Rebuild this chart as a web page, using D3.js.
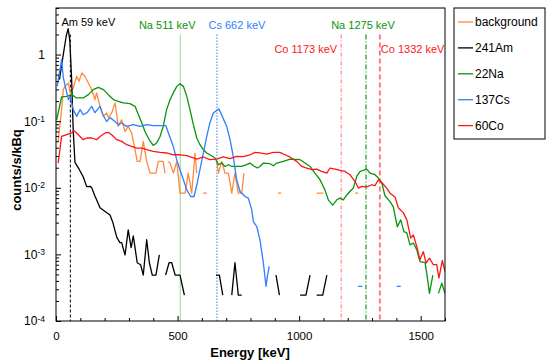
<!DOCTYPE html>
<html>
<head>
<meta charset="utf-8">
<title>Gamma spectra</title>
<script src="https://d3js.org/d3.v7.min.js"></script>
<style>
  body { margin: 0; background: #fff; }
  svg { font-family: "Liberation Sans", Arial, sans-serif; }
  .axis path { display: none; }
  .axis line { stroke: #000; }
  .axis text { font-size: 12px; fill: #000; }
  .trace { fill: none; stroke-width: 1.3; stroke-linejoin: round; }
</style>
</head>
<body>
<svg width="550" height="364"></svg>
<script>
// [energy keV, counts/s/kBq]; null = gap (zero counts)
var background = [
  [9,0.05],[23,0.149],[30,0.298],[37,0.333],[51,0.375],[58,0.265],[71,0.316],[85,0.472],[95,0.397],[106,0.531],
  [119,0.472],[133,0.375],[147,0.298],[160,0.211],[167,0.265],[181,0.167],[195,0.118],[208,0.133],[215,0.113],[229,0.133],
  [243,0.188],[256,0.0835],[270,0.105],[284,0.07],[297,0.0835],[311,0.0665],[325,0.0373],[334,0.0249],[346,0.0249],[359,0.0497],
  [373,0.0249],[387,0.0166],[411,0.0166],[421,0.0249],[441,0.0249],[448,0.0166],null,
  [462,0.0249],[469,0.0235],[483,0.0166],[497,0.0249],[510,0.0083],[531,0.0083],[544,0.0166],[558,0.0083],[572,0.033],[579,0.0166],null,
  [605,0.0083],[620,0.0083],null,
  [661,0.0249],[668,0.0166],[682,0.0249],[695,0.0166],[709,0.0166],[723,0.0083],[736,0.0166],[750,0.0083],[764,0.0083],[773,0.0166],null,
  [913,0.0083],[927,0.0083],null,[1072,0.0083],[1100,0.0083],null,[1230,0.0083],[1243,0.0083]
];

var am241 = [
  [14,0.42],[28,0.9],[42,1.9],[50,2.45],[57,1.6],[64,0.45],[71,0.07],[78,0.024],[95,0.019],[112,0.0146],
  [126,0.0104],[140,0.0105],[147,0.0100],[160,0.0075],[167,0.0066],[181,0.0050],[202,0.0044],[222,0.0039],[234,0.0030],[250,0.0018],
  [263,0.0015],[270,0.0015],[284,0.00098],[297,0.00234],[309,0.00126],[318,0.0019],[334,0.00075],[348,0.0007],[359,0.00049],[373,0.00166],
  [384,0.00075],[396,0.00049],[411,0.00049],[425,0.00098],null,
  [451,0.00049],[465,0.00075],[476,0.00075],[490,0.00049],[510,0.00049],[528,0.000245],null,
  [658,0.00049],[672,0.00049],[686,0.000245],null,
  [723,0.000245],[736,0.00075],[750,0.000245],[764,0.000245],null,
  [905,0.00049],[919,0.000245],null,
  [1004,0.000245],[1028,0.000245],[1045,0.00049],null,
  [1072,0.000245],[1097,0.000245],[1114,0.00049]
];

var na22 = [
  [3,0.105],[23,0.231],[44,0.236],[65,0.25],[85,0.223],[112,0.223],[133,0.25],[153,0.298],[174,0.322],[195,0.298],
  [215,0.25],[236,0.211],[256,0.199],[277,0.188],[304,0.183],[325,0.167],[339,0.125],[353,0.094],[366,0.07],[383,0.053],
  [400,0.0433],[414,0.047],[428,0.059],[441,0.0835],[455,0.149],[469,0.21],[483,0.268],[497,0.333],[510,0.366],[524,0.333],
  [538,0.236],[551,0.149],[565,0.0886],[579,0.0559],[592,0.0443],[606,0.0373],[620,0.0332],[633,0.0313],[654,0.028],[668,0.0222],
  [682,0.0235],[695,0.0209],[709,0.0222],[723,0.0209],[764,0.0209],[784,0.0222],[798,0.0235],[812,0.0214],[828,0.0198],[839,0.0209],
  [853,0.0235],[880,0.023],[894,0.0214],[908,0.0235],[935,0.0249],[963,0.027],[1004,0.0264],[1024,0.0235],[1045,0.0209],[1065,0.0166],
  [1086,0.0132],[1106,0.0093],[1120,0.0066],[1138,0.0055],[1155,0.0066],[1168,0.007],[1182,0.0066],[1196,0.0078],[1209,0.0088],[1223,0.0099],
  [1237,0.0148],[1251,0.0176],[1264,0.0182],[1278,0.0191],[1292,0.0166],[1312,0.0157],[1326,0.014],[1340,0.0118],[1353,0.0076],[1374,0.0062],
  [1387,0.0052],[1404,0.0026],[1418,0.0033],[1431,0.0022],[1443,0.0021],[1456,0.00139],[1470,0.00148],[1484,0.00117],[1497,0.00078],[1518,0.00075],
  [1525,0.00052],[1536,0.00026],[1550,0.00049],null,[1573,0.00026],[1587,0.00037],[1600,0.00026]
];

var cs137 = [
  [5,0.333],[23,0.84],[30,0.45],[44,0.268],[51,0.21],[58,0.233],[71,0.149],[85,0.118],[99,0.149],[112,0.125],
  [128,0.134],[147,0.167],[160,0.134],[181,0.167],[193,0.125],[208,0.099],[222,0.113],[243,0.099],[256,0.0886],[270,0.094],
  [291,0.0835],[317,0.0886],[346,0.0835],[373,0.0886],[400,0.0856],[428,0.086],[452,0.0856],[462,0.067],[483,0.041],[497,0.026],
  [510,0.0187],[524,0.0132],[538,0.0093],[554,0.0074],[568,0.0074],[581,0.0118],[592,0.0187],[606,0.0332],[620,0.059],[633,0.094],
  [647,0.133],[670,0.153],[684,0.118],[702,0.0835],[716,0.0527],[729,0.0296],[743,0.0132],[757,0.0088],[778,0.0074],[791,0.007],
  [805,0.0047],[812,0.0031],[826,0.0026],[839,0.00165],[853,0.00074],[864,0.00033],[869,0.00046],[877,0.00066],null,
  [1243,0.00033],[1260,0.00033],null,[1401,0.00033],[1418,0.00033]
];

var co60 = [
  [9,0.0235],[16,0.0373],[23,0.059],[44,0.0626],[65,0.0665],[74,0.072],[85,0.0665],[99,0.059],[112,0.0527],[126,0.0559],
  [147,0.0559],[167,0.0527],[181,0.059],[202,0.0665],[215,0.068],[229,0.0626],[250,0.0527],[270,0.0497],[291,0.0443],[311,0.0418],
  [332,0.0395],[353,0.0395],[373,0.0373],[400,0.0352],[428,0.034],[455,0.0333],[483,0.0313],[510,0.0313],[538,0.0303],[579,0.027],
  [606,0.029],[633,0.0264],[661,0.027],[688,0.029],[716,0.0273],[743,0.0296],[770,0.0293],[798,0.0313],[819,0.034],[839,0.0333],
  [867,0.0321],[894,0.034],[921,0.034],[942,0.0313],[963,0.0288],[990,0.0249],[1011,0.0209],[1031,0.0198],[1052,0.0187],[1072,0.0191],
  [1093,0.0176],[1114,0.0166],[1127,0.0198],[1148,0.0191],[1168,0.0182],[1189,0.0176],[1209,0.0157],[1230,0.0124],[1244,0.0099],[1258,0.0105],
  [1278,0.0103],[1299,0.0111],[1312,0.0108],[1326,0.0132],[1340,0.012],[1360,0.0099],[1374,0.0083],[1395,0.0072],[1408,0.005],[1429,0.0042],
  [1443,0.0033],[1459,0.00175],[1470,0.00196],[1484,0.00131],[1497,0.00083],[1511,0.0011],[1522,0.00074],[1536,0.00088],[1552,0.0007],[1566,0.0007],
  [1575,0.00044],[1589,0.00081],[1600,0.00055]
];

var seriesNames = ["background", "241Am", "22Na", "137Cs", "60Co"];
var seriesData = [background, am241, na22, cs137, co60];
var seriesColors = ["#ff8a3d", "#000000", "#0a950a", "#2f7fff", "#ff1515"];

var markerEnergies = [59, 511, 662, 1173, 1275, 1332];
var markerLabels = ["Am 59 keV", "Na 511 keV", "Cs 662 keV", "Co 1173 keV", "Na 1275 keV", "Co 1332 keV"];

var xMajor = [0, 500, 1000, 1500];
var yMajor = [1e-4, 1e-3, 1e-2, 1e-1, 1];

// styling / placement of the marker lines and labels
var markerStyle = [
  {stroke: "#000", text: "#000", dash: "3,2", w: 1, anchor: "middle", dx: 18, y: 26},
  {stroke: "#97d597", text: "#0a950a", dash: null, w: 1, anchor: "middle", dx: -13, y: 29},
  {stroke: "#2f7fff", text: "#2f7fff", dash: "1.5,1.5", w: 1, anchor: "middle", dx: 20, y: 29},
  {stroke: "#ff6a6a", text: "#ff1515", dash: "4,2,1,2", w: 1, anchor: "end", dx: -4, y: 53},
  {stroke: "#1a9a1a", text: "#0a950a", dash: "5,2,1,2", w: 1.2, anchor: "middle", dx: -3, y: 29},
  {stroke: "#ff7070", text: "#ff1515", dash: "5,3", w: 1.8, anchor: "start", dx: 1, y: 53}
];

var svg = d3.select("svg"),
    margin = {left: 56, right: 445, top: 8, bottom: 321};

var x = d3.scaleLinear().domain([0, 1600]).range([margin.left, margin.right]);
var y = d3.scaleLog().domain([1e-4, 5]).range([margin.bottom, margin.top]);

var clip = svg.append("clipPath").attr("id", "plotclip")
  .append("rect")
    .attr("x", margin.left).attr("y", margin.top)
    .attr("width", margin.right - margin.left).attr("height", margin.bottom - margin.top);

// marker lines
var mk = svg.append("g").attr("class", "markers");
markerEnergies.forEach(function(e, i) {
  var s = markerStyle[i];
  mk.append("line")
    .attr("x1", x(e)).attr("x2", x(e))
    .attr("y1", y(2)).attr("y2", y(1e-4))
    .attr("stroke", s.stroke)
    .attr("stroke-width", s.w)
    .attr("stroke-dasharray", s.dash);
  mk.append("text")
    .attr("x", x(e) + s.dx).attr("y", s.y)
    .attr("text-anchor", s.anchor)
    .attr("fill", s.text)
    .style("font-size", "11px")
    .text(markerLabels[i]);
});

// spectra
var line = d3.line()
    .defined(function(d) { return d != null; })
    .x(function(d) { return x(d[0]); })
    .y(function(d) { return y(d[1]); });

var traces = svg.append("g").attr("clip-path", "url(#plotclip)");
seriesData.forEach(function(data, i) {
  traces.append("path")
    .attr("class", "trace")
    .attr("stroke", seriesColors[i])
    .attr("d", line(data));
});

// axes (ticks pointing inward)
var xMinor = d3.range(0, 1601, 100).filter(function(v) { return xMajor.indexOf(v) < 0; });
svg.append("g").attr("class", "axis")
  .attr("transform", "translate(0," + margin.bottom + ")")
  .call(d3.axisBottom(x).tickValues(xMinor).tickSize(-3).tickFormat(""));
svg.append("g").attr("class", "axis")
  .attr("transform", "translate(0," + margin.bottom + ")")
  .call(d3.axisBottom(x).tickValues(xMajor).tickSize(-5).tickPadding(11).tickFormat(d3.format("d")))
  .selectAll("text").style("font-size", "11.5px");

var yMinor = [];
yMajor.forEach(function(v) { for (var k = 2; k <= 9; k++) if (v * k <= 5) yMinor.push(v * k); });
svg.append("g").attr("class", "axis")
  .attr("transform", "translate(" + margin.left + ",0)")
  .call(d3.axisLeft(y).tickValues(yMinor).tickSize(-3).tickFormat(""));
var yAx = svg.append("g").attr("class", "axis")
  .attr("transform", "translate(" + margin.left + ",0)")
  .call(d3.axisLeft(y).tickValues(yMajor).tickSize(-5).tickPadding(11).tickFormat(""));

yAx.selectAll(".tick text").each(function(d) {
  var t = d3.select(this);
  var p = Math.round(Math.log10(d));
  if (p === 0) { t.text("1"); return; }
  t.append("tspan").text("10");
  t.append("tspan").attr("dy", "-0.45em").style("font-size", "8.5px").text(String(p));
});

// frame
svg.append("rect")
  .attr("x", margin.left).attr("y", margin.top)
  .attr("width", margin.right - margin.left).attr("height", margin.bottom - margin.top)
  .attr("fill", "none").attr("stroke", "#000").attr("stroke-width", 1);

// axis titles
svg.append("text")
  .attr("x", 250).attr("y", 357)
  .attr("text-anchor", "middle")
  .style("font-size", "13px").style("font-weight", "bold")
  .text("Energy [keV]");
svg.append("text")
  .attr("transform", "translate(21,170) rotate(-90)")
  .attr("text-anchor", "middle")
  .style("font-size", "13px").style("font-weight", "bold")
  .text("counts/s/kBq");

// legend
var lg = svg.append("g").attr("class", "legend");
lg.append("rect")
  .attr("x", 454).attr("y", 8).attr("width", 91).attr("height", 131)
  .attr("fill", "#fff").attr("stroke", "#000").attr("stroke-width", 1);
seriesNames.forEach(function(n, i) {
  var yy = 22 + i * 25.9;
  lg.append("line")
    .attr("x1", 458).attr("x2", 473).attr("y1", yy).attr("y2", yy)
    .attr("stroke", seriesColors[i]).attr("stroke-width", 1.3);
  lg.append("text")
    .attr("x", 475).attr("y", yy).attr("dy", "0.35em")
    .style("font-size", "12px")
    .text(n);
});
</script>
</body>
</html>
